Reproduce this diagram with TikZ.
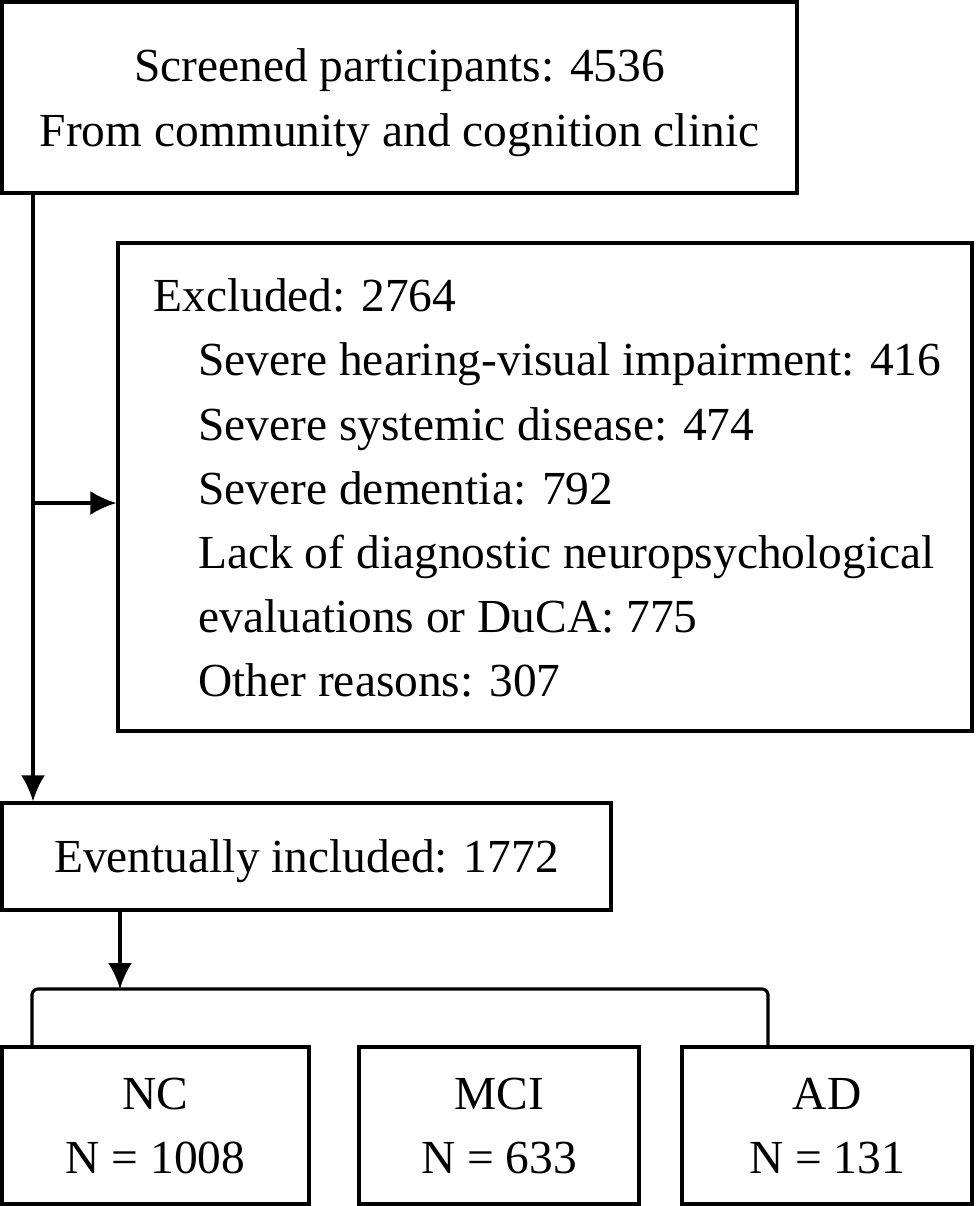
\documentclass[tikz,border=0pt]{standalone}
\usepackage{fontspec}
\setmainfont{Liberation Serif}
\usetikzlibrary{arrows.meta}
\tikzset{
  txt/.style={font=\fontsize{27}{36.5}\selectfont},
  box/.style={draw, line width=1.9pt, inner sep=0pt, align=center, text depth=0pt, txt},
  arr/.style={line width=1.8pt, -{Latex[length=0.52cm,width=0.48cm]}}
}
\begin{document}
\begin{tikzpicture}[x=0.02cm,y=-0.02cm]
  \useasboundingbox (0,0) rectangle (975,1206);
  %partecipanti iniziali
  \node[box, minimum width=15.9cm, minimum height=3.82cm] (screen) at (399.5,97.5)
    {Screened participants: 4536\\From community and cognition clinic};
  %esclusi
  \node[box, minimum width=17.08cm, minimum height=9.76cm] (excl) at (545,487) {};
  \node[txt, anchor=north west, inner sep=0pt, align=left] (excltxt) at (153,278.5)
    {Excluded: 2764\\
     \hspace*{0.9cm}Severe hearing-visual impairment: 416\\
     \hspace*{0.9cm}Severe systemic disease: 474\\
     \hspace*{0.9cm}Severe dementia: 792\\
     \hspace*{0.9cm}Lack of diagnostic neuropsychological\\
     \hspace*{0.9cm}evaluations or DuCA: 775\\
     \hspace*{0.9cm}Other reasons: 307};
  %inclusi
  \node[box, minimum width=12.18cm, minimum height=2.14cm] (incl) at (306.5,856.5)
    {Eventually included: 1772};
  %gruppi
  \node[box, minimum width=6.14cm, minimum height=3.14cm] (nc) at (155.5,1125.5) {NC\\N = 1008};
  \node[box, minimum width=5.6cm, minimum height=3.14cm] (mci) at (499,1125.5) {MCI\\N = 633};
  \node[box, minimum width=5.8cm, minimum height=3.14cm] (ad) at (827,1125.5) {AD\\N = 131};
  %frecce
  \coordinate (fork) at (33,503);
  \draw[line width=1.8pt] (screen.south -| fork) -- (fork);
  \draw[arr] (fork) -- (incl.north -| fork);
  \draw[arr] (fork) -- (excl.west |- fork);
  %parentesi
  \coordinate (split) at (120,989);
  \coordinate (bl) at (32,1047);
  \coordinate (br) at (768,1047);
  \draw[arr] (incl.south -| split) -- (split);
  \draw[line width=1.8pt, rounded corners=0.12cm] (bl) |- (split) -| (br);
\end{tikzpicture}
\end{document}
